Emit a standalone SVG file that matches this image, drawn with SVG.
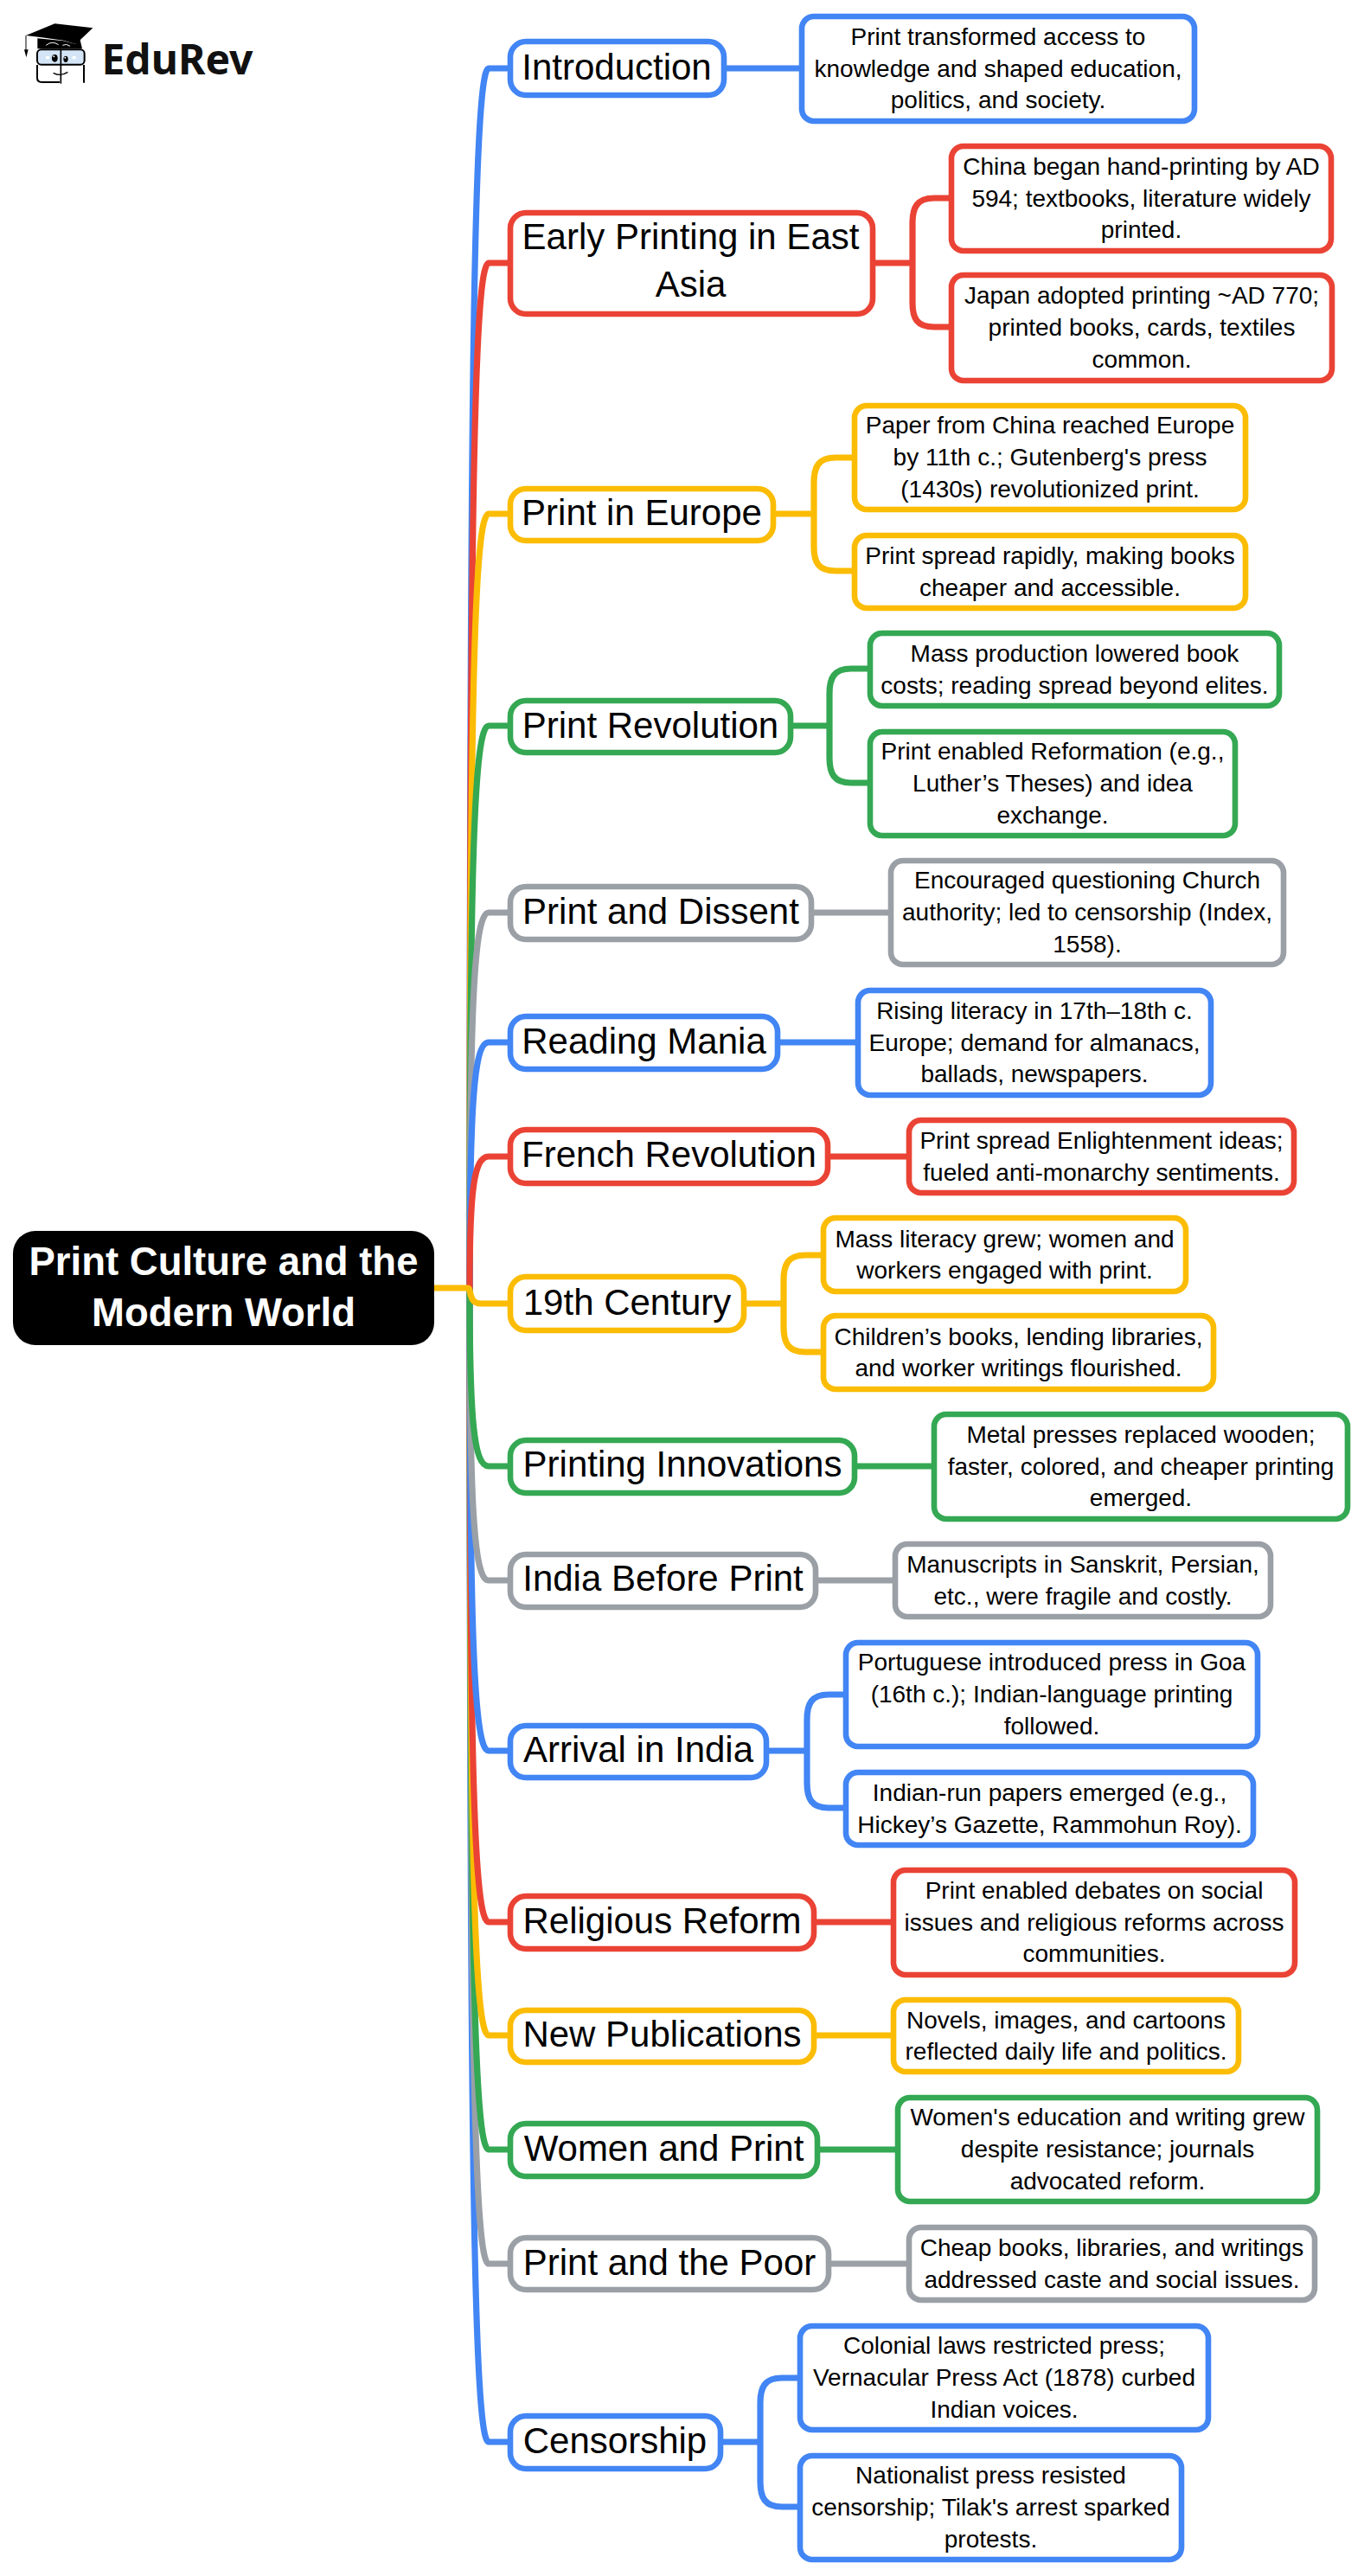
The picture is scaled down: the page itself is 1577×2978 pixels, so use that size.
<svg xmlns="http://www.w3.org/2000/svg" width="1577" height="2978" viewBox="0 0 1577 2978">
<style>
text{font-family:"Liberation Sans",Arial,sans-serif;fill:#000;text-anchor:middle}
.p{font-size:42px}
.d{font-size:28px}
.t{font-size:45.5px;font-weight:700;fill:#fff}
.n{fill:#fff;stroke-width:6.6}
.c{fill:none;stroke-width:7.2;stroke-linecap:round;stroke-linejoin:round}
.b{stroke:#4285F4}.r{stroke:#EA4335}.y{stroke:#FBBC04}.g{stroke:#34A853}.k{stroke:#9AA0A6}
</style>
<rect width="1577" height="2978" fill="#fff"/>
<g id="logo">
<g transform="translate(15 15) scale(.3333)">
<path d="M45 78L145 37L277 52L218 108L175 95L100 85Z" fill="#000"/>
<path d="M85 88L175 97L218 108L232 90L240 124H85Z" fill="#000"/>
<path d="M115 112Q135 95 158 110M172 112Q185 105 198 115" fill="none" stroke="#fff" stroke-width="3"/>
<path d="M45 78V128" stroke="#000" stroke-width="3" fill="none"/>
<path d="M39 127H53L46 154Z" fill="#000"/>
<rect x="84" y="127" width="164" height="52" rx="14" fill="#d3e5f7" stroke="#000" stroke-width="6"/>
<path d="M166 125V245" stroke="#000" stroke-width="5" fill="none"/>
<ellipse cx="145" cy="157" rx="10" ry="13" fill="#000"/>
<ellipse cx="183" cy="160" rx="8" ry="11" fill="#000"/>
<circle cx="142" cy="151" r="3" fill="#fff"/><circle cx="181" cy="155" r="3" fill="#fff"/>
<rect x="114" y="150" width="12" height="10" fill="#fff"/><rect x="206" y="150" width="12" height="10" fill="#fff"/>
<path d="M84 180V226Q84 240 100 240H162M246 180V242" fill="none" stroke="#000" stroke-width="6"/>
<path d="M140 208Q165 222 190 205" fill="none" stroke="#000" stroke-width="4"/>
</g>
<text x="205" y="86" style="font-family:'Noto Sans','Open Sans',sans-serif;font-size:48px;font-weight:700;fill:#111">EduRev</text>
</g>
<g id="connectors">
<path class="c b" d="M543 1489C543 431.5 548 79 565 79H587"/>
<path class="c b" d="M543 1489C543 2489.5 548 2823 565 2823H587"/>
<path class="c r" d="M543 1489C543 600 548 304 565 304H587"/>
<path class="c k" d="M543 1489C543 2335 548 2617 565 2617H587"/>
<path class="c g" d="M543 1489C543 2236 548 2485 565 2485H587"/>
<path class="c y" d="M543 1489C543 818 548 594 565 594H587"/>
<path class="c y" d="M543 1489C543 2137 548 2353 565 2353H587"/>
<path class="c r" d="M543 1489C543 2039 548 2222 565 2222H587"/>
<path class="c g" d="M543 1489C543 1001.5 548 839 565 839H587"/>
<path class="c b" d="M543 1489C543 1890 548 2024 565 2024H587"/>
<path class="c k" d="M543 1489C543 1163.5 548 1055 565 1055H587"/>
<path class="c k" d="M543 1489C543 1742.5 548 1827 565 1827H587"/>
<path class="c b" d="M543 1489C543 1276 548 1205 565 1205H587"/>
<path class="c g" d="M543 1489C543 1643.5 548 1695 565 1695H587"/>
<path class="c r" d="M543 1489C543 1375 548 1337 565 1337H587"/>
<path class="c y" d="M502 1489H541C545 1489 541 1507 556 1507H587"/>
<path class="c b" d="M840 79H924"/>
<path class="c r" d="M1012 304H1055M1097 229H1080C1060 229 1055 240 1055 258V350C1055 368 1060 378 1080 378H1097"/>
<path class="c y" d="M897 594H941M985 529H966C946 529 941 540 941 558V632C941 650 946 660 966 660H985"/>
<path class="c g" d="M917 839H959M1003 773H984C964 773 959 784 959 802V876C959 894 964 905 984 905H1003"/>
<path class="c k" d="M941 1055H1027"/>
<path class="c b" d="M902 1205H989"/>
<path class="c r" d="M960 1337H1048"/>
<path class="c y" d="M863 1507H906M949 1451H931C911 1451 906 1462 906 1480V1534C906 1552 911 1563 931 1563H949"/>
<path class="c g" d="M991 1695H1077"/>
<path class="c k" d="M946 1827H1032"/>
<path class="c b" d="M889 2024H933M975 1959H958C938 1959 933 1970 933 1988V2061C933 2079 938 2090 958 2090H975"/>
<path class="c r" d="M944 2222H1030"/>
<path class="c y" d="M944 2353H1030"/>
<path class="c g" d="M948 2485H1035"/>
<path class="c k" d="M961 2617H1048"/>
<path class="c b" d="M836 2823H879M922 2749H904C884 2749 879 2760 879 2778V2869C879 2887 884 2898 904 2898H922"/>
</g>
<g id="root"><rect x="15" y="1423" width="487" height="132" rx="26" fill="#000"/><text class="t" x="258.5"><tspan x="258.5" y="1474">Print Culture and the</tspan><tspan x="258.5" y="1533">Modern World</tspan></text></g>
<g id="introduction"><rect class="n b" x="590" y="48" width="247" height="62" rx="18"/><text class="p" x="713" y="92">Introduction</text></g>
<g id="introduction-1"><rect class="n b" x="927" y="19" width="454" height="121" rx="14"/><text class="d"><tspan x="1154" y="52">Print transformed access to</tspan><tspan x="1154" y="88.7">knowledge and shaped education,</tspan><tspan x="1154" y="125.4">politics, and society.</tspan></text></g>
<g id="early"><rect class="n r" x="590" y="246" width="419" height="117" rx="18"/><text class="p"><tspan x="798.5" y="288">Early Printing in East</tspan><tspan x="798.5" y="343">Asia</tspan></text></g>
<g id="early-1"><rect class="n r" x="1100" y="169" width="439" height="121" rx="14"/><text class="d"><tspan x="1319.5" y="202">China began hand-printing by AD</tspan><tspan x="1319.5" y="238.7">594; textbooks, literature widely</tspan><tspan x="1319.5" y="275.4">printed.</tspan></text></g>
<g id="early-2"><rect class="n r" x="1100" y="318" width="440" height="122" rx="14"/><text class="d"><tspan x="1320" y="351.3">Japan adopted printing ~AD 770;</tspan><tspan x="1320" y="388">printed books, cards, textiles</tspan><tspan x="1320" y="424.7">common.</tspan></text></g>
<g id="europe"><rect class="n y" x="590" y="565" width="304" height="60" rx="18"/><text class="p" x="742" y="607">Print in Europe</text></g>
<g id="europe-1"><rect class="n y" x="988" y="469" width="452" height="120" rx="14"/><text class="d"><tspan x="1214" y="501.3">Paper from China reached Europe</tspan><tspan x="1214" y="538">by 11th c.; Gutenberg's press</tspan><tspan x="1214" y="574.7">(1430s) revolutionized print.</tspan></text></g>
<g id="europe-2"><rect class="n y" x="988" y="619" width="452" height="84" rx="14"/><text class="d"><tspan x="1214" y="652">Print spread rapidly, making books</tspan><tspan x="1214" y="688.7">cheaper and accessible.</tspan></text></g>
<g id="revolution"><rect class="n g" x="590" y="810" width="324" height="60" rx="18"/><text class="p" x="752" y="852.5">Print Revolution</text></g>
<g id="revolution-1"><rect class="n g" x="1006" y="732" width="473" height="84" rx="14"/><text class="d"><tspan x="1242.5" y="765">Mass production lowered book</tspan><tspan x="1242.5" y="801.7">costs; reading spread beyond elites.</tspan></text></g>
<g id="revolution-2"><rect class="n g" x="1006" y="846" width="422" height="120" rx="14"/><text class="d"><tspan x="1217" y="878.3">Print enabled Reformation (e.g.,</tspan><tspan x="1217" y="915">Luther’s Theses) and idea</tspan><tspan x="1217" y="951.7">exchange.</tspan></text></g>
<g id="dissent"><rect class="n k" x="590" y="1025" width="348" height="61" rx="18"/><text class="p" x="764" y="1067.5">Print and Dissent</text></g>
<g id="dissent-1"><rect class="n k" x="1030" y="995" width="454" height="120" rx="14"/><text class="d"><tspan x="1257" y="1027.3">Encouraged questioning Church</tspan><tspan x="1257" y="1064">authority; led to censorship (Index,</tspan><tspan x="1257" y="1100.7">1558).</tspan></text></g>
<g id="mania"><rect class="n b" x="590" y="1175" width="309" height="61" rx="18"/><text class="p" x="744.5" y="1217.5">Reading Mania</text></g>
<g id="mania-1"><rect class="n b" x="992" y="1145" width="408" height="121" rx="14"/><text class="d"><tspan x="1196" y="1177.8">Rising literacy in 17th–18th c.</tspan><tspan x="1196" y="1214.5">Europe; demand for almanacs,</tspan><tspan x="1196" y="1251.2">ballads, newspapers.</tspan></text></g>
<g id="french"><rect class="n r" x="590" y="1306" width="367" height="62" rx="18"/><text class="p" x="773.5" y="1349">French Revolution</text></g>
<g id="french-1"><rect class="n r" x="1051" y="1295" width="445" height="84" rx="14"/><text class="d"><tspan x="1273.5" y="1328">Print spread Enlightenment ideas;</tspan><tspan x="1273.5" y="1364.7">fueled anti-monarchy sentiments.</tspan></text></g>
<g id="century"><rect class="n y" x="590" y="1476" width="270" height="62" rx="18"/><text class="p" x="725" y="1519.5">19th Century</text></g>
<g id="century-1"><rect class="n y" x="952" y="1408" width="419" height="85" rx="14"/><text class="d"><tspan x="1161.5" y="1441.5">Mass literacy grew; women and</tspan><tspan x="1161.5" y="1478.2">workers engaged with print.</tspan></text></g>
<g id="century-2"><rect class="n y" x="952" y="1521" width="451" height="85" rx="14"/><text class="d"><tspan x="1177.5" y="1554.5">Children’s books, lending libraries,</tspan><tspan x="1177.5" y="1591.2">and worker writings flourished.</tspan></text></g>
<g id="innovations"><rect class="n g" x="590" y="1665" width="398" height="61" rx="18"/><text class="p" x="789" y="1707">Printing Innovations</text></g>
<g id="innovations-1"><rect class="n g" x="1080" y="1635" width="478" height="121" rx="14"/><text class="d"><tspan x="1319" y="1667.8">Metal presses replaced wooden;</tspan><tspan x="1319" y="1704.5">faster, colored, and cheaper printing</tspan><tspan x="1319" y="1741.2">emerged.</tspan></text></g>
<g id="india"><rect class="n k" x="590" y="1797" width="353" height="61" rx="18"/><text class="p" x="766.5" y="1838.5">India Before Print</text></g>
<g id="india-1"><rect class="n k" x="1035" y="1785" width="434" height="84" rx="14"/><text class="d"><tspan x="1252" y="1818">Manuscripts in Sanskrit, Persian,</tspan><tspan x="1252" y="1854.7">etc., were fragile and costly.</tspan></text></g>
<g id="arrival"><rect class="n b" x="590" y="1995" width="296" height="60" rx="18"/><text class="p" x="738" y="2036.7">Arrival in India</text></g>
<g id="arrival-1"><rect class="n b" x="978" y="1899" width="476" height="120" rx="14"/><text class="d"><tspan x="1216" y="1931.3">Portuguese introduced press in Goa</tspan><tspan x="1216" y="1968">(16th c.); Indian-language printing</tspan><tspan x="1216" y="2004.7">followed.</tspan></text></g>
<g id="arrival-2"><rect class="n b" x="978" y="2049" width="471" height="84" rx="14"/><text class="d"><tspan x="1213.5" y="2082">Indian-run papers emerged (e.g.,</tspan><tspan x="1213.5" y="2118.7">Hickey’s Gazette, Rammohun Roy).</tspan></text></g>
<g id="religious"><rect class="n r" x="590" y="2192" width="351" height="61" rx="18"/><text class="p" x="765.5" y="2235">Religious Reform</text></g>
<g id="religious-1"><rect class="n r" x="1033" y="2162" width="464" height="121" rx="14"/><text class="d"><tspan x="1265" y="2194.8">Print enabled debates on social</tspan><tspan x="1265" y="2231.5">issues and religious reforms across</tspan><tspan x="1265" y="2268.2">communities.</tspan></text></g>
<g id="publications"><rect class="n y" x="590" y="2324" width="351" height="60" rx="18"/><text class="p" x="765.5" y="2365.5">New Publications</text></g>
<g id="publications-1"><rect class="n y" x="1033" y="2312" width="399" height="83" rx="14"/><text class="d"><tspan x="1232.5" y="2344.5">Novels, images, and cartoons</tspan><tspan x="1232.5" y="2381.2">reflected daily life and politics.</tspan></text></g>
<g id="women"><rect class="n g" x="590" y="2455" width="355" height="61" rx="18"/><text class="p" x="767.5" y="2497.5">Women and Print</text></g>
<g id="women-1"><rect class="n g" x="1038" y="2425" width="485" height="120" rx="14"/><text class="d"><tspan x="1280.5" y="2457.3">Women's education and writing grew</tspan><tspan x="1280.5" y="2494">despite resistance; journals</tspan><tspan x="1280.5" y="2530.7">advocated reform.</tspan></text></g>
<g id="poor"><rect class="n k" x="590" y="2587" width="368" height="60" rx="18"/><text class="p" x="774" y="2629.5">Print and the Poor</text></g>
<g id="poor-1"><rect class="n k" x="1051" y="2575" width="469" height="84" rx="14"/><text class="d"><tspan x="1285.5" y="2608">Cheap books, libraries, and writings</tspan><tspan x="1285.5" y="2644.7">addressed caste and social issues.</tspan></text></g>
<g id="censorship"><rect class="n b" x="590" y="2793" width="243" height="61" rx="18"/><text class="p" x="711" y="2836">Censorship</text></g>
<g id="censorship-1"><rect class="n b" x="925" y="2689" width="472" height="120" rx="14"/><text class="d"><tspan x="1161" y="2721.3">Colonial laws restricted press;</tspan><tspan x="1161" y="2758">Vernacular Press Act (1878) curbed</tspan><tspan x="1161" y="2794.7">Indian voices.</tspan></text></g>
<g id="censorship-2"><rect class="n b" x="925" y="2839" width="441" height="120" rx="14"/><text class="d"><tspan x="1145.5" y="2871.3">Nationalist press resisted</tspan><tspan x="1145.5" y="2908">censorship; Tilak's arrest sparked</tspan><tspan x="1145.5" y="2944.7">protests.</tspan></text></g>
</svg>
